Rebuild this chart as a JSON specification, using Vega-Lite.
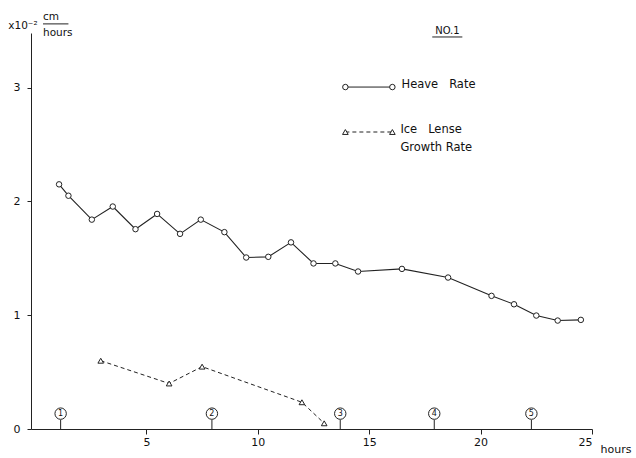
{
  "$schema": "https://vega.github.io/schema/vega-lite/v6.json",
  "width": 561,
  "height": 396,
  "autosize": {"type": "none"},
  "padding": {"left": 31, "top": 33, "right": 44, "bottom": 29},
  "background": "white",
  "data": {"values": [{"note": "annotation"}]},
  "config": {
    "view": {"stroke": null},
    "font": "DejaVu Sans",
    "text": {"font": "DejaVu Sans", "color": "#111"}
  },
  "datasets": {
    "heave": [
      {"hours": 1.08, "rate": 2.15},
      {"hours": 1.5, "rate": 2.05},
      {"hours": 2.55, "rate": 1.84},
      {"hours": 3.49, "rate": 1.955},
      {"hours": 4.51, "rate": 1.756},
      {"hours": 5.48, "rate": 1.89},
      {"hours": 6.51, "rate": 1.715},
      {"hours": 7.44, "rate": 1.84},
      {"hours": 8.5, "rate": 1.73},
      {"hours": 9.48, "rate": 1.507},
      {"hours": 10.47, "rate": 1.513},
      {"hours": 11.49, "rate": 1.64},
      {"hours": 12.5, "rate": 1.455},
      {"hours": 13.48, "rate": 1.455},
      {"hours": 14.5, "rate": 1.384},
      {"hours": 16.47, "rate": 1.407},
      {"hours": 18.54, "rate": 1.331},
      {"hours": 20.49, "rate": 1.17},
      {"hours": 21.5, "rate": 1.096},
      {"hours": 22.5, "rate": 0.997},
      {"hours": 23.46, "rate": 0.953},
      {"hours": 24.5, "rate": 0.959}
    ],
    "ice": [
      {"hours": 2.95, "rate": 0.6},
      {"hours": 6.02, "rate": 0.4},
      {"hours": 7.5, "rate": 0.548},
      {"hours": 11.98, "rate": 0.235},
      {"hours": 12.98, "rate": 0.05}
    ],
    "events": [
      {"hours": 1.15, "label": "1"},
      {"hours": 7.94, "label": "2"},
      {"hours": 13.7, "label": "3"},
      {"hours": 17.92, "label": "4"},
      {"hours": 22.28, "label": "5"}
    ]
  },
  "layer": [
    {
      "data": {"name": "heave"},
      "mark": {"type": "line", "color": "#222", "strokeWidth": 1.1},
      "encoding": {
        "x": {
          "field": "hours", "type": "quantitative",
          "scale": {"domain": [-0.18, 25], "nice": false, "zero": false},
          "axis": {
            "values": [5, 10, 15, 20, 25], "title": "hours", "grid": false,
            "domainColor": "#222", "tickColor": "#222", "tickSize": 5,
            "labelColor": "#111", "labelFontSize": 11, "labelPadding": 2, "labelFont": "DejaVu Sans",
            "titleFont": "DejaVu Sans", "titleFontWeight": "normal", "titleFontSize": 11, "titleColor": "#111",
            "titleX": 569, "titleY": 23, "titleAlign": "left", "titleAnchor": "start", "titleBaseline": "alphabetic"
          }
        },
        "y": {
          "field": "rate", "type": "quantitative",
          "scale": {"domain": [0, 3.48], "nice": false},
          "axis": {
            "values": [0, 1, 2, 3], "format": "d", "title": null, "grid": false,
            "domainColor": "#222", "tickColor": "#222", "tickSize": 4,
            "labelColor": "#111", "labelFontSize": 11, "labelPadding": 7, "labelFont": "DejaVu Sans"
          }
        }
      }
    },
    {
      "data": {"name": "heave"},
      "mark": {"type": "point", "shape": "circle", "filled": true, "fill": "white", "stroke": "#222", "strokeWidth": 1, "size": 30, "opacity": 1},
      "encoding": {
        "x": {"field": "hours", "type": "quantitative"},
        "y": {"field": "rate", "type": "quantitative"}
      }
    },
    {
      "data": {"name": "ice"},
      "mark": {"type": "line", "color": "#222", "strokeWidth": 1, "strokeDash": [4, 3]},
      "encoding": {
        "x": {"field": "hours", "type": "quantitative"},
        "y": {"field": "rate", "type": "quantitative"}
      }
    },
    {
      "data": {"name": "ice"},
      "mark": {"type": "point", "shape": "triangle-up", "filled": true, "fill": "white", "stroke": "#222", "strokeWidth": 1, "size": 32, "opacity": 1},
      "encoding": {
        "x": {"field": "hours", "type": "quantitative"},
        "y": {"field": "rate", "type": "quantitative"}
      }
    },
    {
      "data": {"name": "events"},
      "mark": {"type": "rule", "color": "#222", "strokeWidth": 1},
      "encoding": {
        "x": {"field": "hours", "type": "quantitative"},
        "y": {"datum": 0},
        "y2": {"datum": 0.08}
      }
    },
    {
      "data": {"name": "events"},
      "mark": {"type": "point", "shape": "circle", "filled": true, "fill": "white", "stroke": "#222", "strokeWidth": 1, "size": 130, "opacity": 1},
      "encoding": {
        "x": {"field": "hours", "type": "quantitative"},
        "y": {"datum": 0.135}
      }
    },
    {
      "data": {"name": "events"},
      "mark": {"type": "text", "fontSize": 8, "align": "center", "baseline": "middle"},
      "encoding": {
        "x": {"field": "hours", "type": "quantitative"},
        "y": {"datum": 0.135},
        "text": {"field": "label"}
      }
    },
    {
      "mark": {"type": "rule", "color": "#222", "strokeWidth": 1},
      "encoding": {"x": {"datum": 13.93}, "x2": {"datum": 16.04}, "y": {"datum": 3.005}}
    },
    {
      "mark": {"type": "point", "shape": "circle", "filled": true, "fill": "white", "stroke": "#222", "strokeWidth": 1, "size": 30, "opacity": 1},
      "encoding": {"x": {"datum": 13.93}, "y": {"datum": 3.005}}
    },
    {
      "mark": {"type": "point", "shape": "circle", "filled": true, "fill": "white", "stroke": "#222", "strokeWidth": 1, "size": 30, "opacity": 1},
      "encoding": {"x": {"datum": 16.04}, "y": {"datum": 3.005}}
    },
    {
      "mark": {"type": "rule", "color": "#222", "strokeWidth": 1, "strokeDash": [4, 3]},
      "encoding": {"x": {"datum": 13.93}, "x2": {"datum": 16.04}, "y": {"datum": 2.61}}
    },
    {
      "mark": {"type": "point", "shape": "triangle-up", "filled": true, "fill": "white", "stroke": "#222", "strokeWidth": 1, "size": 32, "opacity": 1},
      "encoding": {"x": {"datum": 13.93}, "y": {"datum": 2.61}}
    },
    {
      "mark": {"type": "point", "shape": "triangle-up", "filled": true, "fill": "white", "stroke": "#222", "strokeWidth": 1, "size": 32, "opacity": 1},
      "encoding": {"x": {"datum": 16.04}, "y": {"datum": 2.61}}
    },
    {
      "mark": {"type": "text", "fontSize": 11.5, "align": "left", "baseline": "middle", "text": "Heave\u00a0\u00a0\u00a0Rate"},
      "encoding": {"x": {"datum": 16.45}, "y": {"datum": 3.02}}
    },
    {
      "mark": {"type": "text", "fontSize": 11.5, "align": "left", "baseline": "middle", "text": "Ice\u00a0\u00a0\u00a0Lense"},
      "encoding": {"x": {"datum": 16.4}, "y": {"datum": 2.63}}
    },
    {
      "mark": {"type": "text", "fontSize": 11.5, "align": "left", "baseline": "middle", "text": "Growth Rate"},
      "encoding": {"x": {"datum": 16.4}, "y": {"datum": 2.47}}
    },
    {
      "mark": {"type": "text", "fontSize": 10, "align": "center", "baseline": "alphabetic", "text": "NO.1"},
      "encoding": {"x": {"datum": 18.51}, "y": {"datum": 3.475}}
    },
    {
      "mark": {"type": "rule", "color": "#222", "strokeWidth": 1},
      "encoding": {"x": {"datum": 17.83}, "x2": {"datum": 19.18}, "y": {"datum": 3.445}}
    },
    {
      "mark": {"type": "text", "fontSize": 10.5, "align": "left", "baseline": "alphabetic", "text": "x10⁻²"},
      "encoding": {"x": {"datum": -1.2}, "y": {"datum": 3.515}}
    },
    {
      "mark": {"type": "text", "fontSize": 10.5, "align": "left", "baseline": "alphabetic", "text": "cm"},
      "encoding": {"x": {"datum": 0.36}, "y": {"datum": 3.59}}
    },
    {
      "mark": {"type": "rule", "color": "#222", "strokeWidth": 1},
      "encoding": {"x": {"datum": 0.36}, "x2": {"datum": 1.5}, "y": {"datum": 3.56}}
    },
    {
      "mark": {"type": "text", "fontSize": 10.5, "align": "left", "baseline": "alphabetic", "text": "hours"},
      "encoding": {"x": {"datum": 0.36}, "y": {"datum": 3.45}}
    }
  ]
}
